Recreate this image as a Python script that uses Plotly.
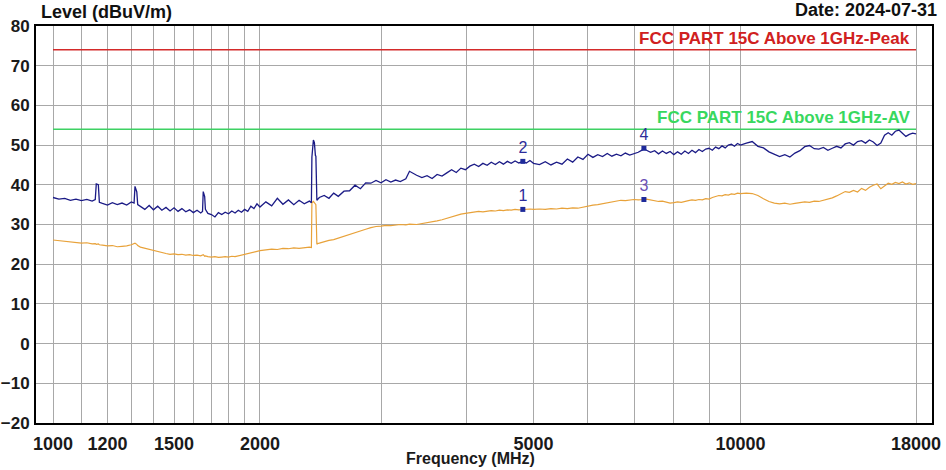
import plotly.graph_objects as go
import math

# ---------------- data ----------------
freq = [
    1000, 1020, 1040, 1060, 1080, 1100, 1120, 1140, 1152, 1156, 1164, 1168,
    1180, 1200, 1220, 1240, 1260, 1280, 1300, 1312, 1316, 1324, 1328,
    1340, 1360, 1380, 1400, 1420, 1440, 1460, 1480, 1500,
    1520, 1540, 1560, 1580, 1600, 1620, 1640, 1650, 1654, 1662, 1666,
    1680, 1700, 1720, 1740, 1760, 1780, 1800, 1820, 1840, 1860, 1880, 1900,
    1920, 1940, 1960, 1980,
    2000, 2040, 2080, 2120, 2160, 2200, 2240, 2280, 2320, 2360,
    2376, 2380, 2392, 2400, 2408, 2412, 2420, 2424,
    2440, 2480, 2520, 2560, 2600,
    2650, 2700, 2750, 2800, 2850, 2900, 2950, 3000,
    3050, 3100, 3150, 3200, 3260, 3300,
    3380, 3440, 3500, 3560, 3620, 3680, 3740, 3800, 3860, 3920, 3980,
    4040, 4100, 4160, 4220, 4280, 4340, 4400, 4460, 4520, 4580, 4640, 4700, 4760,
    4824, 4880, 4940,
    5000, 5100, 5200, 5300, 5400, 5500, 5600, 5700, 5800, 5900,
    6000, 6100, 6200, 6300, 6400, 6500, 6600, 6700, 6800, 6900,
    7000, 7100, 7200, 7236,
    7300, 7400, 7500, 7600, 7700, 7800, 7900,
    8000, 8100, 8200, 8300, 8400, 8500, 8600, 8700, 8800, 8900,
    9000, 9100, 9200, 9300, 9400, 9500, 9600, 9700, 9800, 9900, 10000,
    10200, 10400, 10600, 10800, 11000, 11200, 11400, 11600, 11800, 12000,
    12200, 12400, 12600, 12800, 13000, 13200, 13400, 13600, 13800, 14000,
    14200, 14400, 14600, 14800, 15000, 15200, 15400, 15600, 15800, 16000,
    16200, 16400, 16600, 16800, 17000, 17200, 17400, 17600, 17800, 18000,
]

peak_level = [
    36.8, 36.4, 36.6, 36.1, 36.4, 36.0, 36.3, 35.9, 36.3, 40.2, 40.0, 35.6,
    35.3, 34.9, 35.5, 35.0, 35.4, 34.9, 35.7, 35.4, 39.6, 38.2, 35.0,
    34.6, 33.8, 34.8, 33.7, 34.6, 33.6, 34.3, 33.4, 34.2,
    33.3, 34.0, 33.2, 33.7, 33.0, 33.6, 32.9, 33.3, 38.3, 37.0, 33.8,
    32.8, 32.5, 31.9, 33.0, 32.5, 33.1, 32.7, 33.4, 32.9, 33.6, 33.1, 33.8,
    33.3, 34.6, 34.0, 35.2,
    34.4, 35.7, 34.7, 36.6, 35.1, 36.2, 35.0, 36.1, 35.2, 35.9,
    35.5, 47.0, 51.3, 50.6, 47.4, 47.2, 36.1, 36.3,
    36.8, 37.3, 36.6, 37.9, 37.1,
    38.4, 38.5, 39.9, 39.0, 40.5, 40.4, 41.1, 40.5,
    41.3, 40.7, 41.2, 40.8, 41.5, 43.4,
    42.4, 41.8, 42.3, 41.6, 42.6, 42.2, 43.0, 43.8, 43.1, 44.2, 43.8,
    44.7, 45.2, 44.6, 45.4, 44.9, 45.7, 45.1, 45.8, 45.2, 45.9, 45.4, 46.0, 45.5,
    45.9, 45.5, 46.1,
    45.4, 45.1, 45.8, 45.0, 45.7, 45.2, 46.5, 45.7, 47.0, 46.4,
    47.7, 46.9, 47.6, 47.1, 47.9, 47.2, 47.7, 47.3, 48.0, 47.5,
    47.8, 48.2, 48.8, 49.2,
    48.7, 48.2, 48.6, 47.8, 48.5, 47.9, 48.4,
    47.6, 48.3, 47.7, 48.5, 47.9, 48.7, 48.1, 48.9, 48.4, 49.0,
    49.2, 48.7, 49.5, 49.1, 49.8, 49.3, 50.0, 50.2, 49.7, 50.4, 50.0,
    50.5, 50.9, 49.7, 49.3, 48.3, 47.6, 47.1, 47.6, 47.0, 48.0,
    48.6, 49.6, 49.9, 49.1, 49.0, 49.4, 48.7, 49.2, 49.7, 49.3,
    50.3, 50.6, 50.0, 50.9, 51.1, 50.5, 51.3, 50.8, 49.9, 50.5,
    52.5, 53.1, 52.5, 53.5, 53.8, 53.0, 52.2, 52.7, 53.0, 52.8,
]

avg_level = [
    26.1, 25.9, 25.8, 25.6, 25.5, 25.3, 25.4, 25.1, 25.2, 25.0, 25.1, 24.9,
    24.8, 24.6, 24.7, 24.4, 24.5, 24.6, 24.9, 25.1, 25.3, 25.0, 24.7,
    24.3, 24.0, 23.8, 23.5, 23.2, 22.9, 22.7, 22.5, 22.6,
    22.4, 22.5, 22.3, 22.4, 22.2, 22.3, 22.1, 22.2, 22.4, 22.0, 22.1,
    21.9, 21.8, 21.9, 21.7, 21.8, 21.9, 21.8, 22.0, 21.9, 22.1, 22.3, 22.5,
    22.7, 22.9, 23.1, 23.3,
    23.4, 23.6, 23.8, 23.7, 24.0, 23.9, 24.1, 24.0, 24.2, 24.3,
    24.2, 35.5, 35.8, 35.5, 35.3, 35.0, 25.0, 25.2,
    25.3, 25.7, 26.0, 26.2, 26.6,
    27.0, 27.4, 27.9, 28.4, 28.8, 29.2, 29.5, 29.6,
    29.8, 29.7, 29.9, 30.0, 29.9, 30.1,
    30.0, 30.2, 30.5, 30.7, 30.9, 31.2, 31.6, 32.0, 32.3, 32.6, 32.8,
    33.0, 33.1, 33.3, 33.2, 33.4, 33.5, 33.4, 33.6, 33.5, 33.7, 33.6, 33.8, 33.7,
    33.8, 33.7, 33.9,
    33.8, 33.9, 33.8, 34.0, 33.9, 34.1, 34.0, 34.2, 34.1, 34.4,
    34.6, 34.9, 35.0, 35.2, 35.5, 35.7, 35.9, 36.1, 36.0, 36.2,
    36.3, 36.2, 36.4, 36.3,
    36.4, 36.2, 36.0, 35.8, 35.9, 35.6, 35.4,
    35.5, 35.7, 35.6, 35.9, 36.0, 36.2, 36.1, 36.3, 36.2, 36.5,
    36.4, 36.8, 37.1, 37.3, 37.2, 37.5, 37.4, 37.7, 37.6, 37.9, 37.8,
    37.9, 37.8, 37.3, 36.5, 35.8, 35.4, 35.2, 35.4, 35.1, 35.3,
    35.5, 35.7, 35.6, 35.9, 35.8, 36.1, 36.4, 36.7, 37.2, 37.8,
    38.3, 38.1, 38.6, 38.2, 39.1, 38.6, 39.4, 39.9, 40.2, 39.0,
    39.6, 40.4, 40.1, 40.6, 40.3, 40.7, 40.2, 40.5, 40.1, 40.3,
]

assert len(freq) == len(peak_level) == len(avg_level)

# limits (dBuV/m) and frequency span (MHz)
limit_freq = [1000, 18000]
limit_peak = [74, 74]
limit_av = [54, 54]

# marked points
mark_id = ["1", "2", "3", "4"]
mark_freq = [4824, 4824, 7236, 7236]
mark_level = [33.8, 45.9, 36.3, 49.2]
mark_color = ["#2B2B9A", "#2B2B9A", "#6A4FB5", "#2B2B9A"]

# axis ticks / grid
x_grid = [1000, 1100, 1200, 1300, 1400, 1500, 1600, 1700, 1800, 1900, 2000,
          3000, 4000, 5000, 6000, 7000, 8000, 9000, 10000, 18000]
x_labeled = [1000, 1200, 1500, 2000, 5000, 10000, 18000]
y_ticks = [-20, -10, 0, 10, 20, 30, 40, 50, 60, 70, 80]

# ---------------- geometry (pixels) ----------------
W, H = 946, 470
FRAME_L, FRAME_R = 36, 932          # black frame
GRID_L, GRID_R = 53, 916            # 1000 MHz and 18000 MHz positions
TOP, BOTTOM = 26, 423
pw = FRAME_R - FRAME_L
px_per_dec = (GRID_R - GRID_L) / math.log10(limit_freq[1] / limit_freq[0])
x_lo = math.log10(limit_freq[0]) - (GRID_L - FRAME_L) / px_per_dec
x_hi = math.log10(limit_freq[1]) + (FRAME_R - GRID_R) / px_per_dec
def px(x):
    return (x - FRAME_L) / pw
def py(y):
    return (BOTTOM - y) / (BOTTOM - TOP)

SANS = "Liberation Sans, Arial, sans-serif"
GRID = "#A8A8A8"

fig = go.Figure()
fig.add_trace(go.Scatter(x=limit_freq, y=limit_peak, mode="lines",
                         line=dict(color="#D42A2A", width=1.6), hoverinfo="skip"))
fig.add_trace(go.Scatter(x=limit_freq, y=limit_av, mode="lines",
                         line=dict(color="#3DD163", width=1.6), hoverinfo="skip"))
fig.add_trace(go.Scatter(x=freq, y=avg_level, mode="lines",
                         line=dict(color="#E8A23A", width=1.2)))
fig.add_trace(go.Scatter(x=freq, y=peak_level, mode="lines",
                         line=dict(color="#1B1B86", width=1.3)))
fig.add_trace(go.Scatter(x=mark_freq, y=mark_level, mode="markers+text",
                         text=mark_id, textposition="top center",
                         textfont=dict(family=SANS, size=16, color=mark_color),
                         marker=dict(symbol="square", size=5, color="#1E2A9A")))

fig.update_layout(
    width=W, height=H,
    margin=dict(l=FRAME_L, r=W - FRAME_R, t=TOP, b=H - BOTTOM, autoexpand=False),
    paper_bgcolor="white", plot_bgcolor="white",
    showlegend=False,
    xaxis=dict(
        type="log", automargin=False, range=[x_lo, x_hi],
        tickmode="array", tickvals=x_grid,
        ticktext=[str(v) if v in x_labeled else "" for v in x_grid],
        showgrid=True, gridcolor=GRID, gridwidth=1,
        zeroline=False,
        showline=True, mirror=True, linecolor="black", linewidth=2,
        ticks="outside", ticklen=3, tickcolor="rgba(0,0,0,0)",
        tickfont=dict(family=SANS, size=18, color="#1A1A1A", weight="bold"),
    ),
    yaxis=dict(
        range=[-20, 80], automargin=False,
        tickmode="array", tickvals=y_ticks,
        showgrid=True, gridcolor=GRID, gridwidth=1,
        zeroline=False,
        showline=True, mirror=True, linecolor="black", linewidth=2,
        ticks="outside", ticklen=1, tickcolor="rgba(0,0,0,0)",
        tickfont=dict(family=SANS, size=17, color="#1A1A1A", weight="bold"),
    ),
)

# white strips hide the horizontal grid between the frame and the grid area
for x0, x1 in [(FRAME_L + 1, GRID_L - 0.5), (GRID_R + 0.5, FRAME_R - 1)]:
    fig.add_shape(type="rect", xref="paper", yref="paper", layer="between",
                  x0=px(x0), x1=px(x1), y0=py(BOTTOM - 1), y1=py(TOP + 1),
                  fillcolor="white", line=dict(width=0))

fig.add_annotation(text="Level (dBuV/m)", xref="paper", yref="paper",
                   x=px(39), y=py(24), xanchor="left", yanchor="bottom",
                   showarrow=False,
                   font=dict(family=SANS, size=18, color="#111111", weight="bold"))
fig.add_annotation(text="Date: 2024-07-31", xref="paper", yref="paper",
                   x=px(939), y=py(22), xanchor="right", yanchor="bottom",
                   showarrow=False,
                   font=dict(family=SANS, size=18, color="#111111", weight="bold"))
fig.add_annotation(text="Frequency (MHz)", xref="paper", yref="paper",
                   x=px(470), y=py(458), xanchor="center", yanchor="middle",
                   showarrow=False,
                   font=dict(family=SANS, size=16, color="#1A1A1A", weight="bold"))
fig.add_annotation(text="FCC PART 15C Above 1GHz-Peak", xref="paper", yref="y",
                   x=px(912), y=limit_peak[0], xanchor="right", yanchor="bottom",
                   showarrow=False,
                   font=dict(family=SANS, size=17, color="#D02020", weight="bold"))
fig.add_annotation(text="FCC PART 15C Above 1GHz-AV", xref="paper", yref="y",
                   x=px(912), y=limit_av[0], xanchor="right", yanchor="bottom",
                   showarrow=False,
                   font=dict(family=SANS, size=17, color="#38D85E", weight="bold"))

fig.write_html("out.html", config={"displayModeBar": False},
               post_script="document.body.style.margin='0';document.body.style.padding='0';")
